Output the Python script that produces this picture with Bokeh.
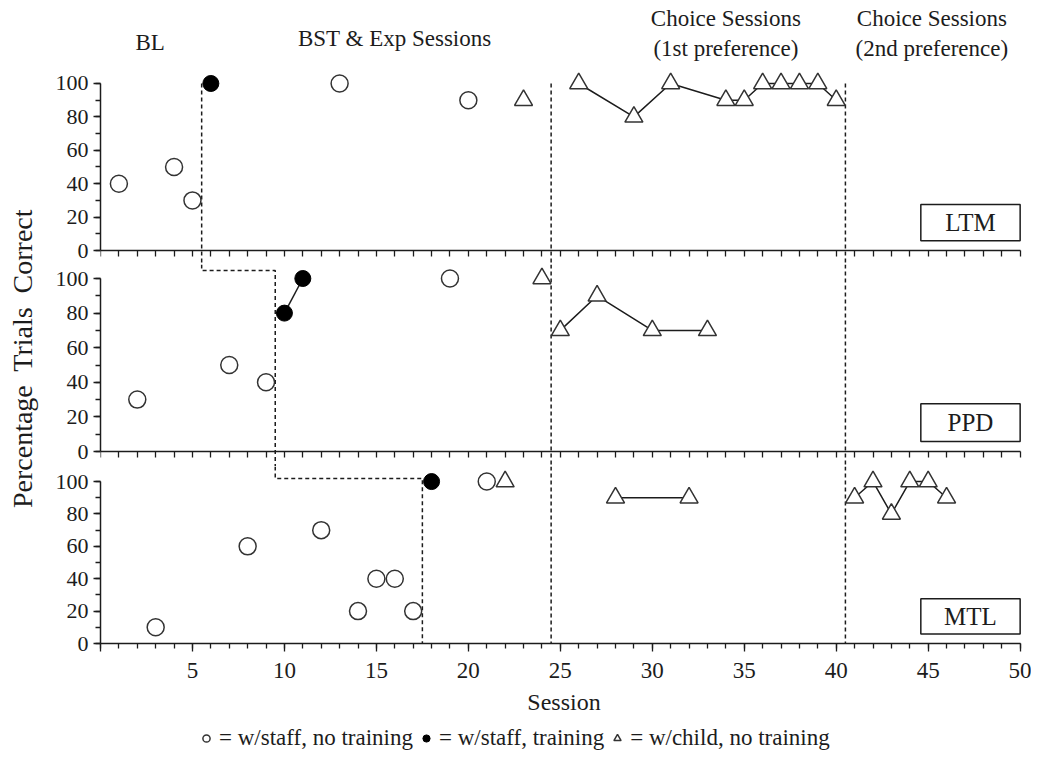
from bokeh.plotting import figure
from bokeh.layouts import column, row
from bokeh.models import (Range1d, SingleIntervalTicker, FixedTicker, Label, BoxAnnotation,
                          Legend, LegendItem)
from bokeh.embed import file_html
from bokeh.resources import INLINE

FONT = "Liberation Serif"
INK = "#1c1c1c"
MARK = "#333333"

# ---------------- data ----------------
participants = ["LTM", "PPD", "MTL"]

ltm_staff_x = [1, 4, 5, 13, 20]
ltm_staff_y = [40, 50, 30, 100, 90]
ltm_train_x = [6]
ltm_train_y = [100]
ltm_child_x = [23]
ltm_child_y = [90]
ltm_pref1_x = [26, 29, 31, 34, 35, 36, 37, 38, 39, 40]
ltm_pref1_y = [100, 80, 100, 90, 90, 100, 100, 100, 100, 90]
ltm_pref2_x = []
ltm_pref2_y = []

ppd_staff_x = [2, 7, 9, 19]
ppd_staff_y = [30, 50, 40, 100]
ppd_train_x = [10, 11]
ppd_train_y = [80, 100]
ppd_child_x = [24]
ppd_child_y = [100]
ppd_pref1_x = [25, 27, 30, 33]
ppd_pref1_y = [70, 90, 70, 70]
ppd_pref2_x = []
ppd_pref2_y = []

mtl_staff_x = [3, 8, 12, 14, 15, 16, 17, 21]
mtl_staff_y = [10, 60, 70, 20, 40, 40, 20, 100]
mtl_train_x = [18]
mtl_train_y = [100]
mtl_child_x = [22]
mtl_child_y = [100]
mtl_pref1_x = [28, 32]
mtl_pref1_y = [90, 90]
mtl_pref2_x = [41, 42, 43, 44, 45, 46]
mtl_pref2_y = [90, 100, 80, 100, 100, 90]

baseline_end = [5.5, 9.5, 17.5]        # staggered phase change (multiple baseline)
choice_phase_starts = [24.5, 40.5]     # start of choice phases
session_ticks = list(range(0, 51))

phase_titles = ["BL", "BST & Exp Sessions", "Choice Sessions", "(1st preference)",
                "Choice Sessions", "(2nd preference)"]
legend_labels = ["= w/staff, no training", "= w/staff, training", "= w/child, no training"]
x_axis_title = "Session"
y_axis_title = "Percentage\u00a0 Trials\u00a0 Correct"

# ---------------- layout constants ----------------
X_MAX = 50.4
FRAME_W = 927
LABEL_W = 40
LEFT_B = 60
TOTAL_H = 756
DASH = "4 3"

panel_specs = [
    dict(name="LTM", h=256, top=8, y0=-8.38, y1=144.9, conn=None,
         staff=(ltm_staff_x, ltm_staff_y), train=(ltm_train_x, ltm_train_y),
         child=(ltm_child_x, ltm_child_y), pref1=(ltm_pref1_x, ltm_pref1_y),
         pref2=(ltm_pref2_x, ltm_pref2_y)),
    dict(name="PPD", h=202, top=0, y0=-8.67, y1=108.1, conn=104.6,
         staff=(ppd_staff_x, ppd_staff_y), train=(ppd_train_x, ppd_train_y),
         child=(ppd_child_x, ppd_child_y), pref1=(ppd_pref1_x, ppd_pref1_y),
         pref2=(ppd_pref2_x, ppd_pref2_y)),
    dict(name="MTL", h=177, top=0, y0=0.0, y1=109.3, conn=101.9,
         staff=(mtl_staff_x, mtl_staff_y), train=(mtl_train_x, mtl_train_y),
         child=(mtl_child_x, mtl_child_y), pref1=(mtl_pref1_x, mtl_pref1_y),
         pref2=(mtl_pref2_x, mtl_pref2_y)),
]

STAFF_STYLE = dict(marker="circle", size=17, fill_color="white", line_color=MARK, line_width=1.5)
TRAIN_STYLE = dict(marker="circle", size=16, fill_color="black", line_color="black", line_width=1)
CHILD_STYLE = dict(marker="triangle", size=18, fill_color="white", line_color=MARK, line_width=1.5)


def style_axis(ax, size="22px"):
    ax.axis_line_color = INK
    ax.axis_line_width = 1.5
    ax.major_tick_line_color = INK
    ax.major_tick_line_width = 1.3
    ax.minor_tick_line_color = INK
    ax.minor_tick_line_width = 1.3
    ax.major_label_text_font = FONT
    ax.major_label_text_font_size = size
    ax.major_label_text_color = INK
    ax.axis_label_text_font = FONT
    ax.axis_label_text_font_style = "normal"
    ax.axis_label_text_color = INK


def bare_figure(fw, fh, left=0):
    f = figure(frame_width=fw, frame_height=fh, x_range=Range1d(0, 1), y_range=Range1d(0, 1),
               toolbar_location=None, output_backend="svg",
               x_axis_location=None, y_axis_location=None,
               min_border_left=left, min_border_right=0, min_border_top=0, min_border_bottom=0)
    f.outline_line_color = None
    f.xgrid.visible = False
    f.ygrid.visible = False
    return f


figs = []
for i, spec in enumerate(panel_specs):
    is_top = i == 0
    is_bottom = i == len(panel_specs) - 1
    y0, y1 = spec["y0"], spec["y1"]
    p = figure(frame_width=FRAME_W, frame_height=spec["h"],
               x_range=Range1d(0, X_MAX), y_range=Range1d(y0, y1),
               toolbar_location=None, output_backend="svg",
               min_border_left=LEFT_B, min_border_right=4,
               min_border_top=spec["top"], min_border_bottom=0)
    p.outline_line_color = None
    p.xgrid.visible = False
    p.ygrid.visible = False

    xa = p.xaxis[0]
    xa.bounds = (0, 50)
    style_axis(xa)
    xa.major_tick_in = 0
    xa.minor_tick_in = 0
    if not is_bottom:
        xa.ticker = FixedTicker(ticks=[], minor_ticks=session_ticks)
        xa.minor_tick_out = 6
        xa.fixed_location = 0
    else:
        xa.ticker = SingleIntervalTicker(interval=5, num_minor_ticks=5)
        xa.major_tick_out = 8
        xa.minor_tick_out = 5
        xa.major_label_standoff = 11
        xa.major_label_text_font_size = "23px"
        xa.major_label_overrides = {0: ""}
        xa.axis_label = x_axis_title
        xa.axis_label_text_font_size = "24px"
        xa.axis_label_standoff = 8

    ya = p.yaxis[0]
    ya.ticker = SingleIntervalTicker(interval=20, num_minor_ticks=2)
    ya.bounds = (0, 100)
    style_axis(ya)
    ya.major_tick_out = 7
    ya.major_tick_in = 0
    ya.minor_tick_out = 5
    ya.minor_tick_in = 0
    ya.major_label_standoff = 5

    # choice-phase dashed lines
    top_of_phase_line = 100 if is_top else y1
    p.segment(x0=choice_phase_starts, y0=[top_of_phase_line] * 2,
              x1=choice_phase_starts, y1=[y0] * 2,
              line_color=INK, line_width=1.5, line_dash=DASH)

    # staggered baseline phase-change line
    if is_top:
        sx = [baseline_end[0], baseline_end[0]]
        sy = [100, y0]
    else:
        sx = [baseline_end[i - 1], baseline_end[i - 1], baseline_end[i], baseline_end[i]]
        sy = [y1, spec["conn"], spec["conn"], y0]
    p.line(sx, sy, line_color=INK, line_width=1.5, line_dash=DASH)

    # connecting lines
    tx, ty = spec["train"]
    p1x, p1y = spec["pref1"]
    p2x, p2y = spec["pref2"]
    for lx, ly in [(tx, ty), (p1x, p1y), (p2x, p2y)]:
        if len(lx) > 1:
            p.line(lx, ly, line_color=INK, line_width=1.5)

    cx, cy = spec["child"]
    stx, sty = spec["staff"]
    p.scatter(cx + p1x + p2x, cy + p1y + p2y, **CHILD_STYLE)
    p.scatter(stx, sty, **STAFF_STYLE)
    p.scatter(tx, ty, **TRAIN_STYLE)

    # participant box
    p.add_layout(BoxAnnotation(left=44.6, right=50.0, bottom=5.8, top=27.6,
                               fill_color="white", fill_alpha=1.0,
                               line_color=INK, line_alpha=1.0, line_width=1.5))
    p.add_layout(Label(x=47.3, y=16.7, text=spec["name"], text_align="center",
                       text_baseline="middle", text_font=FONT,
                       text_font_size="25px", text_color=INK))

    if is_top:
        title_pos = [(2.7, 124.6), (16.0, 127.0), (34.0, 138.9), (34.0, 121.0),
                     (45.2, 138.9), (45.2, 121.0)]
        for t, (lx, ly) in zip(phase_titles, title_pos):
            p.add_layout(Label(x=lx, y=ly, text=t, text_align="center",
                               text_baseline="middle", text_font=FONT,
                               text_font_size="23px", text_color=INK))
    figs.append(p)

# legend strip under the panels (its renderers' points fall outside its tiny ranges,
# so only their legend glyphs are visible)
leg_fig = bare_figure(FRAME_W, 34, left=LEFT_B)
ls = leg_fig.scatter(mtl_staff_x, mtl_staff_y, **STAFF_STYLE)
lt = leg_fig.scatter(mtl_train_x, mtl_train_y, **TRAIN_STYLE)
lc = leg_fig.scatter(mtl_child_x, mtl_child_y, **CHILD_STYLE)
legend = Legend(items=[LegendItem(label=legend_labels[0], renderers=[ls]),
                       LegendItem(label=legend_labels[1], renderers=[lt]),
                       LegendItem(label=legend_labels[2], renderers=[lc])],
                orientation="horizontal", location=(97, 0),
                label_text_font=FONT, label_text_font_size="23px",
                label_text_color=INK, glyph_width=18, glyph_height=24,
                label_standoff=4, spacing=4, padding=2, margin=0,
                border_line_color=None, background_fill_alpha=0)
leg_fig.add_layout(legend)

# shared y-axis title
ylab_fig = bare_figure(LABEL_W, TOTAL_H)
ylab_fig.add_layout(Label(x=22, y=TOTAL_H - 358, x_units="screen", y_units="screen",
                          text=y_axis_title, angle=90, angle_units="deg",
                          text_align="center", text_baseline="middle",
                          text_font=FONT, text_font_size="28px", text_color=INK))

layout = row(ylab_fig, column(*figs, leg_fig, spacing=0), spacing=0)
open("out.html", "w").write(file_html(layout, INLINE))
